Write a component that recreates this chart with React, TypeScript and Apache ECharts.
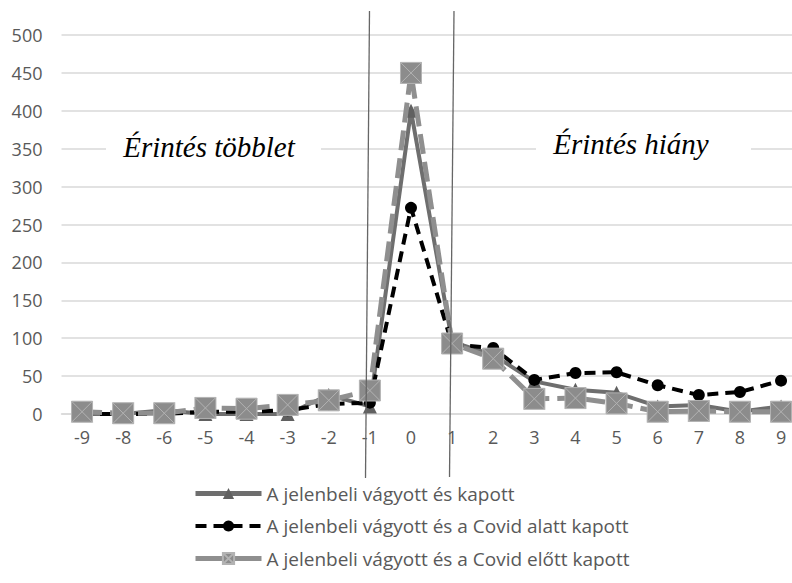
import React, { useEffect, useRef } from "react";
import * as echarts from "echarts";

const categories = ["-9", "-8", "-6", "-5", "-4", "-3", "-2", "-1", "0", "1", "2", "3", "4", "5", "6", "7", "8", "9"];
const seriesNames = [
  "A jelenbeli vágyott és kapott",
  "A jelenbeli vágyott és a Covid alatt kapott",
  "A jelenbeli vágyott és a Covid előtt kapott",
];
const kapott = [0, 0, 5, 0, 0, 0, 25, 10, 400, 95, 78, 43, 32, 28, 10, 12, 3, 10];
const covidAlatt = [0, 0, 0, 3, 3, 5, 13, 15, 272, 92, 87, 45, 54, 55, 38, 25, 29, 44];
const covidElott = [3, 1, 1, 8, 7, 12, 18, 31, 450, 93, 73, 20, 21, 14, 3, 4, 3, 3];
const yTicks = { min: 0, max: 500, interval: 50 };
const annotations = ["Érintés többlet", "Érintés hiány"];

const squareX = "path://M0 0 L10 0 L10 10 L0 10 Z M0 0 L10 10 M10 0 L0 10";
const labelFont = "'Open Sans', 'Liberation Sans', sans-serif";

export default function App() {
  const ref = useRef<HTMLDivElement>(null);
  useEffect(() => {
    if (!ref.current) return;
    const chart = echarts.init(ref.current, null, { renderer: "svg" });
    const s1Line = { color: "#6e6e6e", width: 4, type: "solid" };
    const s2Line = { color: "#000000", width: 4, type: [11, 7] as number[] };
    const s3Line = { color: "#8f8f8f", width: 5, type: [20, 8] as number[] };
    chart.setOption({
      animation: false,
      backgroundColor: "#ffffff",
      grid: { left: 61.5, right: 0.4, top: 35, bottom: 169, containLabel: false },
      xAxis: {
        type: "category",
        data: categories,
        boundaryGap: true,
        axisLine: { show: true, lineStyle: { color: "#d9d9d9", width: 1.5 } },
        axisTick: { show: false },
        axisLabel: { color: "#595959", fontSize: 18, fontFamily: labelFont, margin: 14 },
      },
      yAxis: {
        type: "value",
        min: yTicks.min,
        max: yTicks.max,
        interval: yTicks.interval,
        axisLine: { show: false },
        axisTick: { show: false },
        splitLine: { lineStyle: { color: "#d9d9d9", width: 1.5 } },
        axisLabel: { color: "#595959", fontSize: 18, fontFamily: labelFont, margin: 19 },
      },
      legend: {
        orient: "vertical",
        left: 188,
        top: 479,
        itemWidth: 66,
        itemHeight: 14,
        itemGap: 13.5,
        data: [
          { name: seriesNames[0], lineStyle: { color: "#6e6e6e", width: 5, type: "solid" } },
          { name: seriesNames[1], lineStyle: s2Line },
          { name: seriesNames[2], lineStyle: { color: "#8f8f8f", width: 5, type: "solid" } },
        ],
        textStyle: { color: "#595959", fontSize: 19, fontFamily: labelFont },
      },
      series: [
        {
          name: seriesNames[0],
          type: "line",
          data: kapott,
          symbol: "triangle",
          symbolSize: 14,
          itemStyle: { color: "#606060" },
          lineStyle: s1Line,
          z: 2,
        },
        {
          name: seriesNames[1],
          type: "line",
          data: covidAlatt,
          symbol: "circle",
          symbolSize: 12,
          itemStyle: { color: "#000000" },
          lineStyle: s2Line,
          z: 3,
        },
        {
          name: seriesNames[2],
          type: "line",
          data: covidElott,
          symbol: squareX,
          symbolSize: 21,
          itemStyle: { color: "#8c8c8c", borderColor: "#b3b3b3", borderWidth: 1 },
          lineStyle: s3Line,
          z: 4,
        },
      ],
      graphic: [
        { type: "rect", shape: { x: 106, y: 142, width: 215, height: 14 }, style: { fill: "#ffffff" }, z: 10 },
        { type: "rect", shape: { x: 536, y: 140, width: 215, height: 14 }, style: { fill: "#ffffff" }, z: 10 },
        {
          type: "text",
          x: 209,
          y: 147,
          z: 11,
          style: {
            text: annotations[0],
            font: "italic 29px 'Liberation Serif', 'DejaVu Serif', serif",
            fill: "#000000",
            textAlign: "center",
            textVerticalAlign: "middle",
          },
        },
        {
          type: "text",
          x: 631,
          y: 144,
          z: 11,
          style: {
            text: annotations[1],
            font: "italic 29px 'Liberation Serif', 'DejaVu Serif', serif",
            fill: "#000000",
            textAlign: "center",
            textVerticalAlign: "middle",
          },
        },
        { type: "line", shape: { x1: 369.5, y1: 11, x2: 365.5, y2: 478 }, style: { stroke: "#666666", lineWidth: 1.3 }, z: 12 },
        { type: "line", shape: { x1: 454, y1: 11, x2: 449.5, y2: 477 }, style: { stroke: "#666666", lineWidth: 1.3 }, z: 12 },
      ],
    });
    return () => chart.dispose();
  }, []);
  return (
    <div style={{ position: "fixed", left: 0, top: 0, width: 792, height: 583, overflow: "hidden", background: "#fff" }}>
      <div ref={ref} style={{ width: 802, height: 583 }} />
    </div>
  );
}
